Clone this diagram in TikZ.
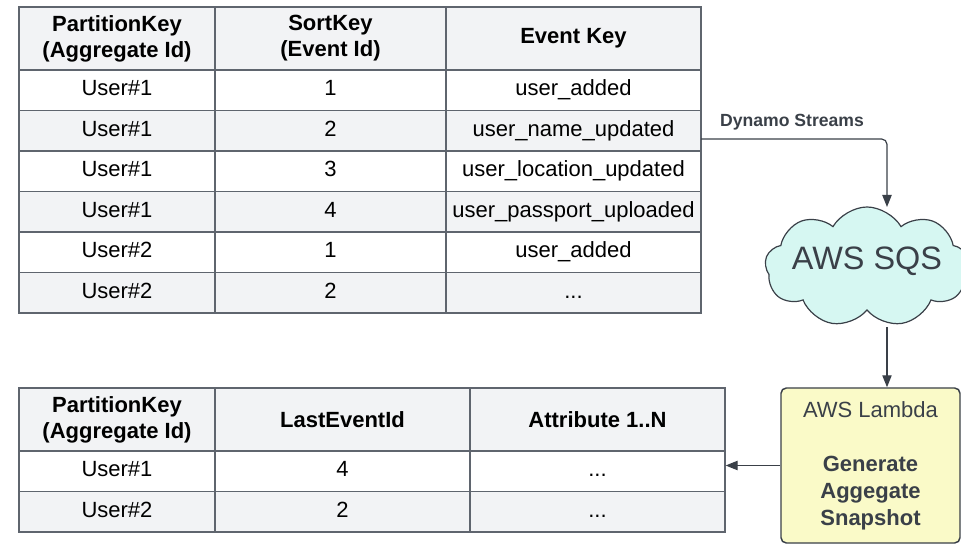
\documentclass[tikz,border=0pt]{standalone}
\usepackage{fontspec}
\setmainfont{Liberation Sans}
\usetikzlibrary{shapes.symbols,arrows.meta}

\definecolor{headgray}{RGB}{242,243,245}
\definecolor{gridline}{RGB}{95,101,110}
\definecolor{ink}{RGB}{58,64,72}
\definecolor{sqsfill}{RGB}{214,247,242}
\definecolor{lambdafill}{RGB}{250,250,200}
\newcommand\cellfont{\fontsize{16.5}{19.5}\selectfont}
\newcommand\headfont{\fontsize{16.5}{19.5}\selectfont\bfseries}

\tikzset{
  cell/.style={draw=gridline, line width=0.9pt, inner sep=0pt, font=\cellfont, align=center},
  headrow/.style={cell, fill=headgray, font=\headfont, minimum height=47.25pt},
  plainrow/.style={cell, fill=white, minimum height=30.375pt, text height=12pt, text depth=3.5pt},
  shaderow/.style={cell, fill=headgray, minimum height=30.375pt, text height=12pt, text depth=3.5pt},
  colpk/.style={minimum width=147pt},
  colsk/.style={minimum width=173.25pt},
  colek/.style={minimum width=191.25pt},
  conn/.style={draw=ink, line width=0.9pt, -{Triangle[length=9pt,width=7pt]}},
}

\begin{document}
\begin{tikzpicture}[x=0.75pt,y=0.75pt,yscale=-1,xscale=1]
\useasboundingbox (0,0) rectangle (961,545);

%Table: event store
\node [headrow,colpk] (ev01) at (117,38.5) {PartitionKey\\(Aggregate Id)};
\node [headrow,colsk] (ev02) at (330.5,38.5) {SortKey\\(Event Id)};
\node [headrow,colek] (ev03) at (573.5,38.5) {Event Key};
%row 1
\node [plainrow,colpk] (ev11) at (117,90.25) {User\#1};
\node [plainrow,colsk] (ev12) at (330.5,90.25) {1};
\node [plainrow,colek] (ev13) at (573.5,90.25) {user\_added};
%row 2
\node [shaderow,colpk] (ev21) at (117,130.75) {User\#1};
\node [shaderow,colsk] (ev22) at (330.5,130.75) {2};
\node [shaderow,colek] (ev23) at (573.5,130.75) {user\_name\_updated};
%row 3
\node [plainrow,colpk] (ev31) at (117,171.25) {User\#1};
\node [plainrow,colsk] (ev32) at (330.5,171.25) {3};
\node [plainrow,colek] (ev33) at (573.5,171.25) {user\_location\_updated};
%row 4
\node [shaderow,colpk] (ev41) at (117,211.75) {User\#1};
\node [shaderow,colsk] (ev42) at (330.5,211.75) {4};
\node [shaderow,colek] (ev43) at (573.5,211.75) {user\_passport\_uploaded};
%row 5
\node [plainrow,colpk] (ev51) at (117,252.25) {User\#2};
\node [plainrow,colsk] (ev52) at (330.5,252.25) {1};
\node [plainrow,colek] (ev53) at (573.5,252.25) {user\_added};
%row 6
\node [shaderow,colpk] (ev61) at (117,292.75) {User\#2};
\node [shaderow,colsk] (ev62) at (330.5,292.75) {2};
\node [shaderow,colek] (ev63) at (573.5,292.75) {...};

%Table: snapshots
\node [headrow,colpk] (sn01) at (117,419.5) {PartitionKey\\(Aggregate Id)};
\node [headrow,colek] (sn02) at (342.5,419.5) {LastEventId};
\node [headrow,colek] (sn03) at (597.5,419.5) {Attribute 1..N};
%row 1
\node [plainrow,colpk] (sn11) at (117,471.25) {User\#1};
\node [plainrow,colek] (sn12) at (342.5,471.25) {4};
\node [plainrow,colek] (sn13) at (597.5,471.25) {...};
%row 2
\node [shaderow,colpk] (sn21) at (117,511.75) {User\#2};
\node [shaderow,colek] (sn22) at (342.5,511.75) {2};
\node [shaderow,colek] (sn23) at (597.5,511.75) {...};

%Shape: Cloud
\node [cloud, cloud puffs=9, cloud puff arc=120, cloud ignores aspect, draw=ink, line width=0.9pt, fill=sqsfill,
  minimum width=153pt, minimum height=90pt, inner sep=0pt,
  label={[font=\fontsize{24.3}{28}\selectfont, text=ink, yshift=4pt]center:AWS SQS}] (sqs) at (867,267) {};

%Shape: Rectangle
\node [draw=ink, line width=1.1pt, fill=lambdafill, rounded corners=4pt, minimum width=134.25pt, minimum height=116.25pt,
  inner sep=0pt, align=center, text=ink, font=\fontsize{16.5}{20.25}\selectfont] (lambda) at (870.5,465.5)
  {AWS Lambda\\[20.25pt]\textbf{Generate}\\\textbf{Aggegate}\\\textbf{Snapshot}};

% Text Node
\node [font=\fontsize{13.2}{15}\selectfont\bfseries, text=ink] (dslabel) at (792,122) {Dynamo Streams};

%Connectors
\coordinate (dsout) at (701,139);
\coordinate (sqsin) at (887,207);
\coordinate (sqsout) at (887,327);
\draw [conn, rounded corners=4pt] (dsout) -| (sqsin);
\draw [conn] (sqsout) -- (sqsout |- lambda.north);
\draw [conn] (lambda.west) -- (lambda.west -| sn13.east);

\end{tikzpicture}
\end{document}
